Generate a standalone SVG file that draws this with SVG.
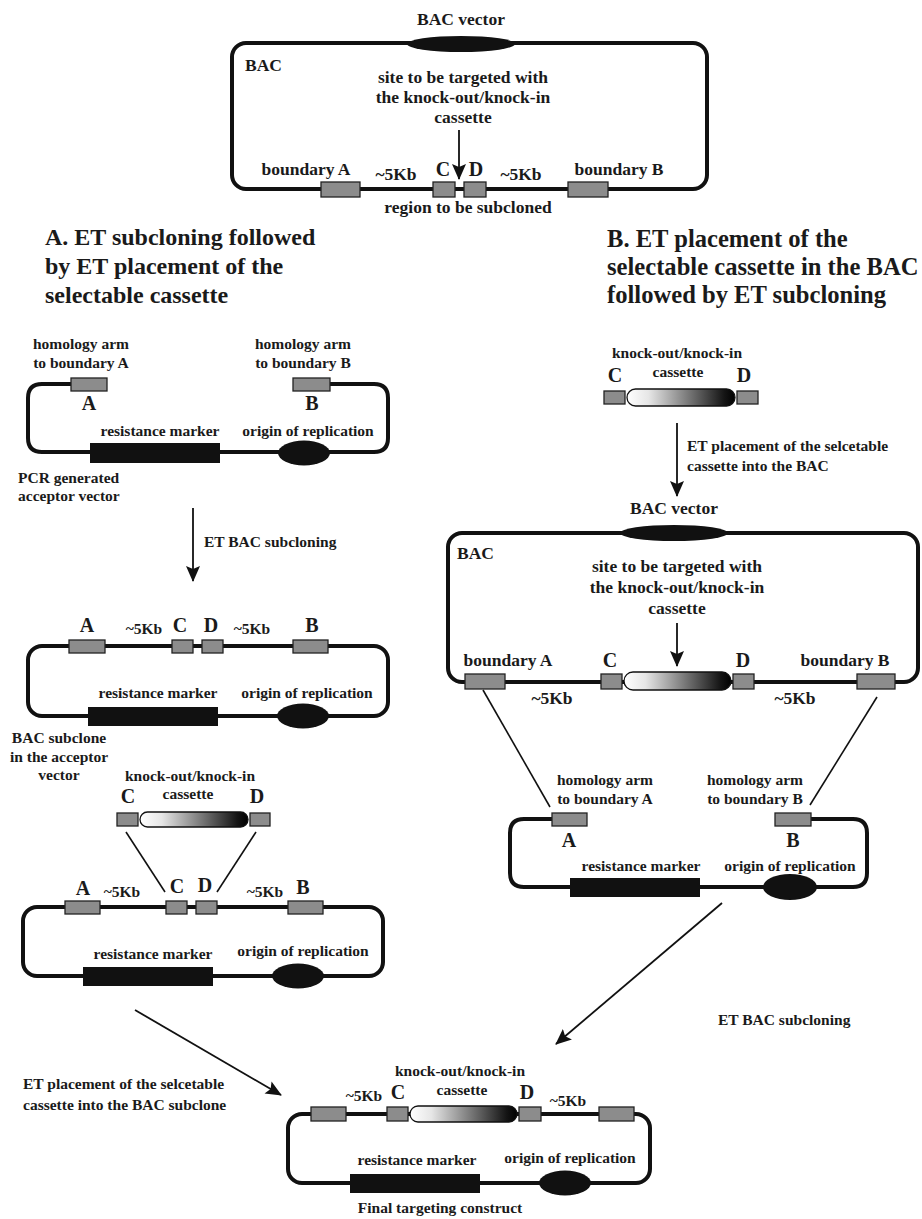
<svg xmlns="http://www.w3.org/2000/svg" width="922" height="1219" viewBox="0 0 922 1219">
<style>
.bb{fill:none;stroke:#111;stroke-width:4;stroke-linejoin:round}
.hb{fill:#8c8c8c;stroke:#222;stroke-width:1.3}
.blk{fill:#111}
.cas{fill:url(#grad);stroke:#111;stroke-width:1.3}
.ln{stroke:#111;stroke-width:1.6;fill:none}
.arr{stroke:#111;stroke-width:1.8;fill:none;marker-end:url(#ah)}
text{font-family:"Liberation Serif","Times New Roman",serif;font-weight:bold;fill:#1a1a1a}
.s{font-size:15.5px}
.m{font-size:17.5px}
.l{font-size:20px}
.h{font-size:24px}
.hb2{font-size:24.6px}
.c{text-anchor:middle}
</style>
<defs>
<linearGradient id="grad" x1="0" y1="0" x2="1" y2="0">
<stop offset="0" stop-color="#ffffff"/>
<stop offset="0.2" stop-color="#e6e6e6"/>
<stop offset="0.9" stop-color="#151515"/>
<stop offset="1" stop-color="#000000"/>
</linearGradient>
<marker id="ah" viewBox="0 0 16 14" refX="15" refY="7" markerWidth="16" markerHeight="14" markerUnits="userSpaceOnUse" orient="auto">
<path d="M0,0 L16,7 L0,14 L3,7 z" fill="#111"/>
</marker>
</defs>

<g id="bac-top">
<rect class="bb" x="232" y="43" width="475" height="146" rx="14"/>
<ellipse class="blk" cx="461" cy="44" rx="54" ry="8"/>
<rect class="hb" x="321" y="182" width="39" height="15"/>
<rect class="hb" x="433" y="182" width="22" height="15"/>
<rect class="hb" x="464" y="182" width="22" height="15"/>
<rect class="hb" x="568" y="182" width="40" height="15"/>
<text class="m c" x="461" y="25">BAC vector</text>
<text class="m" x="245" y="71">BAC</text>
<text class="m c" x="463" y="83">site to be targeted with</text>
<text class="m c" x="463" y="103">the knock-out/knock-in</text>
<text class="m c" x="463" y="123">cassette</text>
<text class="m c" x="306" y="175">boundary A</text>
<text class="m c" x="396" y="180">~5Kb</text>
<text class="l c" x="443" y="176">C</text>
<text class="l c" x="476" y="176">D</text>
<text class="m c" x="521" y="180">~5Kb</text>
<text class="m c" x="619" y="175">boundary B</text>
<text class="m c" x="468" y="213">region to be subcloned</text>
</g>

<g id="title-a">
<text class="h" x="45" y="245">A. ET subcloning followed</text>
<text class="h" x="45" y="274">by ET placement of the</text>
<text class="h" x="45" y="303">selectable cassette</text>
</g>
<g id="title-b">
<text class="hb2" x="607" y="247">B. ET placement of the</text>
<text class="hb2" x="607" y="275">selectable cassette in the BAC</text>
<text class="hb2" x="607" y="303">followed by ET subcloning</text>
</g>

<g id="acceptor-a">
<path class="bb" d="M71,384 H42 Q28,384 28,398 V438 Q28,452 42,452 H374 Q388,452 388,438 V398 Q388,384 374,384 H330"/>
<rect class="hb" x="71" y="378" width="36" height="13"/>
<rect class="hb" x="293" y="378" width="37" height="13"/>
<rect class="blk" x="90" y="443" width="130" height="20"/>
<ellipse class="blk" cx="304" cy="453" rx="26" ry="12.5"/>
<text class="s c" x="81" y="349">homology arm</text>
<text class="s c" x="81" y="368">to boundary A</text>
<text class="s c" x="303" y="349">homology arm</text>
<text class="s c" x="303" y="368">to boundary B</text>
<text class="l c" x="89" y="410">A</text>
<text class="l c" x="312" y="410">B</text>
<text class="s c" x="160" y="436">resistance marker</text>
<text class="s c" x="308" y="436">origin of replication</text>
<text class="s" x="18" y="483">PCR generated</text>
<text class="s" x="18" y="501">acceptor vector</text>
</g>

<g id="subclone-a">
<rect class="bb" x="28" y="646" width="360" height="70" rx="14"/>
<rect class="hb" x="69" y="640" width="36" height="13"/>
<rect class="hb" x="172" y="640" width="21" height="13"/>
<rect class="hb" x="202" y="640" width="21" height="13"/>
<rect class="hb" x="293" y="640" width="35" height="13"/>
<rect class="blk" x="88" y="707" width="130" height="19"/>
<ellipse class="blk" cx="303" cy="716" rx="26" ry="12.5"/>
<text class="l c" x="87" y="632">A</text>
<text class="s c" x="144" y="634">~5Kb</text>
<text class="l c" x="180" y="632">C</text>
<text class="l c" x="211" y="632">D</text>
<text class="s c" x="252" y="634">~5Kb</text>
<text class="l c" x="312" y="632">B</text>
<text class="s c" x="158" y="698">resistance marker</text>
<text class="s c" x="307" y="698">origin of replication</text>
<text class="s c" x="59" y="743">BAC subclone</text>
<text class="s c" x="59" y="762">in the acceptor</text>
<text class="s c" x="59" y="780">vector</text>
</g>

<g id="cassette-a">
<rect class="hb" x="117" y="813" width="21" height="13"/>
<rect class="cas" x="140" y="812" width="108" height="15" rx="7.5"/>
<rect class="hb" x="250" y="813" width="20" height="13"/>
<text class="s c" x="190" y="781">knock-out/knock-in</text>
<text class="s c" x="188" y="799">cassette</text>
<text class="l c" x="128" y="803">C</text>
<text class="l c" x="257" y="803">D</text>
</g>

<g id="insertion-a">
<rect class="bb" x="23" y="907" width="360" height="69" rx="14"/>
<rect class="hb" x="65" y="901" width="35" height="13"/>
<rect class="hb" x="166" y="901" width="21" height="13"/>
<rect class="hb" x="196" y="901" width="21" height="13"/>
<rect class="hb" x="288" y="901" width="35" height="13"/>
<rect class="blk" x="83" y="967" width="130" height="19"/>
<ellipse class="blk" cx="298" cy="976" rx="26" ry="12.5"/>
<text class="l c" x="83" y="895">A</text>
<text class="s c" x="122" y="897">~5Kb</text>
<text class="l c" x="177" y="893">C</text>
<text class="l c" x="205" y="892">D</text>
<text class="s c" x="265" y="897">~5Kb</text>
<text class="l c" x="303" y="894">B</text>
<text class="s c" x="153" y="959">resistance marker</text>
<text class="s c" x="303" y="956">origin of replication</text>
</g>

<g id="cassette-b">
<rect class="hb" x="604" y="391" width="21" height="13"/>
<rect class="cas" x="627" y="389" width="108" height="17" rx="8.5"/>
<rect class="hb" x="737" y="391" width="21" height="13"/>
<text class="s c" x="677" y="358">knock-out/knock-in</text>
<text class="s c" x="678" y="377">cassette</text>
<text class="l c" x="615" y="382">C</text>
<text class="l c" x="744" y="382">D</text>
</g>

<g id="bac-b">
<rect class="bb" x="448" y="533" width="470" height="149" rx="14"/>
<ellipse class="blk" cx="674" cy="533" rx="54" ry="8"/>
<rect class="hb" x="465" y="674" width="40" height="15"/>
<rect class="hb" x="601" y="674" width="21" height="15"/>
<rect class="cas" x="624" y="672" width="107" height="18" rx="9"/>
<rect class="hb" x="733" y="674" width="21" height="15"/>
<rect class="hb" x="857" y="674" width="38" height="15"/>
<text class="m c" x="674" y="514">BAC vector</text>
<text class="m" x="457" y="559">BAC</text>
<text class="m c" x="508" y="666">boundary A</text>
<text class="m c" x="677" y="572">site to be targeted with</text>
<text class="m c" x="677" y="593">the knock-out/knock-in</text>
<text class="m c" x="677" y="614">cassette</text>
<text class="l c" x="610" y="667">C</text>
<text class="l c" x="743" y="667">D</text>
<text class="m c" x="845" y="666">boundary B</text>
<text class="m c" x="552" y="704">~5Kb</text>
<text class="m c" x="795" y="704">~5Kb</text>
</g>

<g id="acceptor-b">
<path class="bb" d="M552,819 H524 Q510,819 510,833 V873 Q510,887 524,887 H853 Q867,887 867,873 V833 Q867,819 853,819 H811"/>
<rect class="hb" x="552" y="813" width="35" height="13"/>
<rect class="hb" x="775" y="813" width="36" height="13"/>
<rect class="blk" x="570" y="878" width="130" height="19"/>
<ellipse class="blk" cx="790" cy="887" rx="27" ry="13"/>
<text class="s c" x="605" y="785">homology arm</text>
<text class="s c" x="605" y="804">to boundary A</text>
<text class="s c" x="755" y="785">homology arm</text>
<text class="s c" x="755" y="804">to boundary B</text>
<text class="l c" x="569" y="847">A</text>
<text class="l c" x="793" y="847">B</text>
<text class="s c" x="641" y="871">resistance marker</text>
<text class="s c" x="790" y="871">origin of replication</text>
</g>

<g id="final">
<rect class="bb" x="288" y="1114" width="362" height="69" rx="14"/>
<rect class="hb" x="311" y="1107" width="35" height="14"/>
<rect class="hb" x="387" y="1107" width="21" height="14"/>
<rect class="cas" x="410" y="1106" width="107" height="16" rx="8"/>
<rect class="hb" x="519" y="1107" width="22" height="14"/>
<rect class="hb" x="599" y="1107" width="35" height="14"/>
<rect class="blk" x="350" y="1174" width="130" height="19"/>
<ellipse class="blk" cx="565" cy="1183" rx="26" ry="12.5"/>
<text class="s c" x="460" y="1076">knock-out/knock-in</text>
<text class="s c" x="462" y="1095">cassette</text>
<text class="s c" x="364" y="1101">~5Kb</text>
<text class="l c" x="398" y="1099">C</text>
<text class="l c" x="527" y="1099">D</text>
<text class="s c" x="568" y="1106">~5Kb</text>
<text class="s c" x="417" y="1165">resistance marker</text>
<text class="s c" x="570" y="1163">origin of replication</text>
<text class="s c" x="440" y="1213">Final targeting construct</text>
</g>

<g id="connectors">
<line class="arr" x1="459" y1="130" x2="459" y2="179"/>
<line class="arr" x1="193" y1="508" x2="193" y2="581"/>
<line class="ln" x1="126" y1="832" x2="165" y2="892"/>
<line class="ln" x1="256" y1="832" x2="217" y2="892"/>
<line class="arr" x1="135" y1="1010" x2="281" y2="1095"/>
<line class="arr" x1="677" y1="423" x2="677" y2="496"/>
<line class="arr" x1="677" y1="623" x2="677" y2="666"/>
<line class="ln" x1="483" y1="690" x2="550" y2="807"/>
<line class="ln" x1="877" y1="697" x2="810" y2="805"/>
<line class="arr" x1="722" y1="903" x2="556" y2="1044"/>
<text class="s" x="204" y="547">ET BAC subcloning</text>
<text class="s" x="23" y="1089">ET placement of the selcetable</text>
<text class="s" x="23" y="1110">cassette into the BAC subclone</text>
<text class="s" x="687" y="451">ET placement of the selcetable</text>
<text class="s" x="687" y="471">cassette into the BAC</text>
<text class="s" x="718" y="1025">ET  BAC subcloning</text>
</g>
</svg>
